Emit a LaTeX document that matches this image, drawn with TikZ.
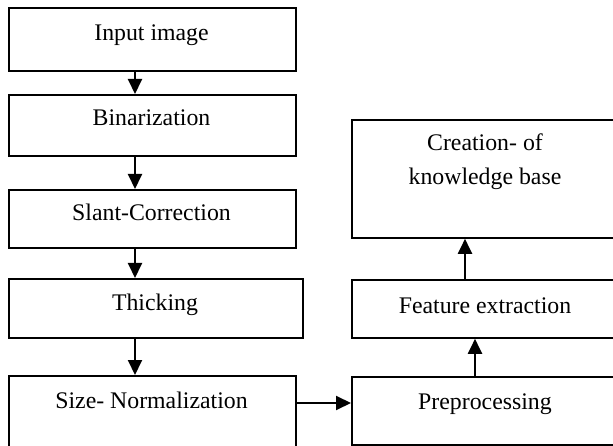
\documentclass[tikz,border=0pt]{standalone}
\usepackage{fontspec}
\setmainfont{Liberation Serif}
\usetikzlibrary{arrows.meta}
\begin{document}
\begin{tikzpicture}[x=1pt,y=1pt,
  box/.style={draw=black, line width=1.8pt, rectangle, anchor=north west, inner sep=0pt},
  lbl/.style={anchor=base, inner sep=0pt, font=\fontsize{23.8}{34}\selectfont},
  arr/.style={line width=2pt, -{Triangle[length=15pt,width=14pt]}}]
\clip (0,0) rectangle (613,-446);
\fill[white] (0,0) rectangle (613,-446);
% left column boxes
\node[box, minimum width=287pt, minimum height=63pt] (b1) at (8,-7) {};
\node[box, minimum width=287pt, minimum height=61pt] (b2) at (8,-94) {};
\node[box, minimum width=287pt, minimum height=58pt] (b3) at (8,-189) {};
\node[box, minimum width=294pt, minimum height=59pt] (b4) at (8,-278) {};
\node[box, minimum width=287pt, minimum height=85pt] (b5) at (8,-375) {};
% right column boxes
\node[box, minimum width=268pt, minimum height=118pt] (kb) at (351,-119) {};
\node[box, minimum width=268pt, minimum height=58pt] (fe) at (351,-279) {};
\node[box, minimum width=268pt, minimum height=68pt] (pp) at (351,-376) {};
% labels
\node[lbl] (t1) at (151.5,-41) {Input image};
\node[lbl] (t2) at (151.5,-126) {Binarization};
\node[lbl] (t3) at (151.5,-221) {Slant-Correction};
\node[lbl] (t4) at (155,-311) {Thicking};
\node[lbl] (t5) at (151.5,-408) {Size- Normalization};
\node[lbl] (t6) at (485,-151) {Creation- of};
\node[lbl] (t7) at (485,-185) {knowledge base};
\node[lbl] (t8) at (485,-313) {Feature extraction};
\node[lbl] (t9) at (485,-409) {Preprocessing};
% connectors
\coordinate (xl) at (135,0);
\coordinate (xr1) at (465,0);
\coordinate (xr2) at (475,0);
\coordinate (yh) at (0,-403);
\draw[arr] (b1.south -| xl) -- (b2.north -| xl);
\draw[arr] (b2.south -| xl) -- (b3.north -| xl);
\draw[arr] (b3.south -| xl) -- (b4.north -| xl);
\draw[arr] (b4.south -| xl) -- (b5.north -| xl);
\draw[arr] (b5.east |- yh) -- (pp.west |- yh);
\draw[arr] (pp.north -| xr2) -- (fe.south -| xr2);
\draw[arr] (fe.north -| xr1) -- (kb.south -| xr1);
\end{tikzpicture}
\end{document}
